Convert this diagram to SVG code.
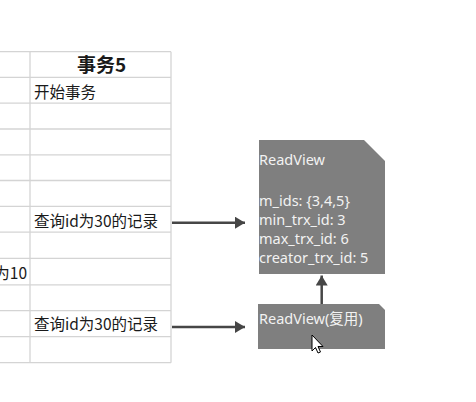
<svg xmlns="http://www.w3.org/2000/svg" width="476" height="402" viewBox="0 0 476 402">
<style>
.grid line{stroke:#d4d4d4;stroke-width:1.3}
.cell{font-family:"Noto Sans CJK SC","Liberation Sans",sans-serif;font-size:15.5px;fill:#1a1a1a}
.hdr{font-family:"Noto Sans CJK SC","Liberation Sans",sans-serif;font-size:19px;font-weight:bold;fill:#1a1a1a}
.rv{fill:#7f7f7f}
.rvt{font-family:"Noto Sans","Noto Sans CJK SC",sans-serif;font-size:14.5px;fill:#f2f2f2}
.conn{stroke:#464646;stroke-width:2.5;fill:none}
</style>
<defs>
<marker id="ah" viewBox="0 0 10 12" refX="10" refY="6" markerWidth="4" markerHeight="4.8" markerUnits="strokeWidth" orient="auto">
<path d="M0,0 L10,6 L0,12 Z" fill="#464646"/>
</marker>
</defs>
<rect width="476" height="402" fill="#ffffff"/>
<g id="table">
<g class="grid">
<line x1="30" y1="51.7" x2="30" y2="362.7"/>
<line x1="171" y1="51.7" x2="171" y2="362.7"/>
<line x1="0" y1="51.7" x2="171" y2="51.7"/>
<line x1="0" y1="77.4" x2="171" y2="77.4"/>
<line x1="0" y1="103.2" x2="171" y2="103.2"/>
<line x1="0" y1="129" x2="171" y2="129"/>
<line x1="0" y1="154.8" x2="171" y2="154.8"/>
<line x1="0" y1="180.5" x2="171" y2="180.5"/>
<line x1="0" y1="206.3" x2="171" y2="206.3"/>
<line x1="0" y1="232.1" x2="171" y2="232.1"/>
<line x1="0" y1="258.3" x2="171" y2="258.3"/>
<line x1="0" y1="284.8" x2="171" y2="284.8"/>
<line x1="0" y1="310.7" x2="171" y2="310.7"/>
<line x1="0" y1="336.7" x2="171" y2="336.7"/>
<line x1="0" y1="362.7" x2="171" y2="362.7"/>
</g>
<text class="hdr" x="101.5" y="72" text-anchor="middle">事务5</text>
<text class="cell" x="34" y="98">开始事务</text>
<text class="cell" x="34" y="227">查询id为30的记录</text>
<text class="cell" x="27" y="279" text-anchor="end">为10</text>
<text class="cell" x="34" y="330">查询id为30的记录</text>
</g>
<g id="readview1">
<path class="rv" d="M259,140 H364 L385,161 V274 H259 Z"/>
<text class="rvt" x="259" y="165">ReadView</text>
<text class="rvt" x="259" y="206">m_ids: {3,4,5}</text>
<text class="rvt" x="259" y="225">min_trx_id: 3</text>
<text class="rvt" x="259" y="244">max_trx_id: 6</text>
<text class="rvt" x="259" y="263">creator_trx_id: 5</text>
</g>
<g id="readview2">
<path class="rv" d="M258,304 H379 L385,310 V349 H258 Z"/>
<text class="rvt" x="259" y="324">ReadView(复用)</text>
</g>
<g id="connectors">
<line class="conn" x1="172" y1="222.7" x2="245" y2="222.7" marker-end="url(#ah)"/>
<line class="conn" x1="172" y1="327" x2="245" y2="327" marker-end="url(#ah)"/>
<line class="conn" x1="321.7" y1="304" x2="321.7" y2="275.5" marker-end="url(#ah)"/>
</g>
<g id="cursor">
<path d="M312,335 L312,351 L315.5,347.5 L318,353 L320.5,352 L318,346.5 L323,346.5 Z" fill="#ffffff" stroke="#000000" stroke-width="1"/>
</g>
</svg>
